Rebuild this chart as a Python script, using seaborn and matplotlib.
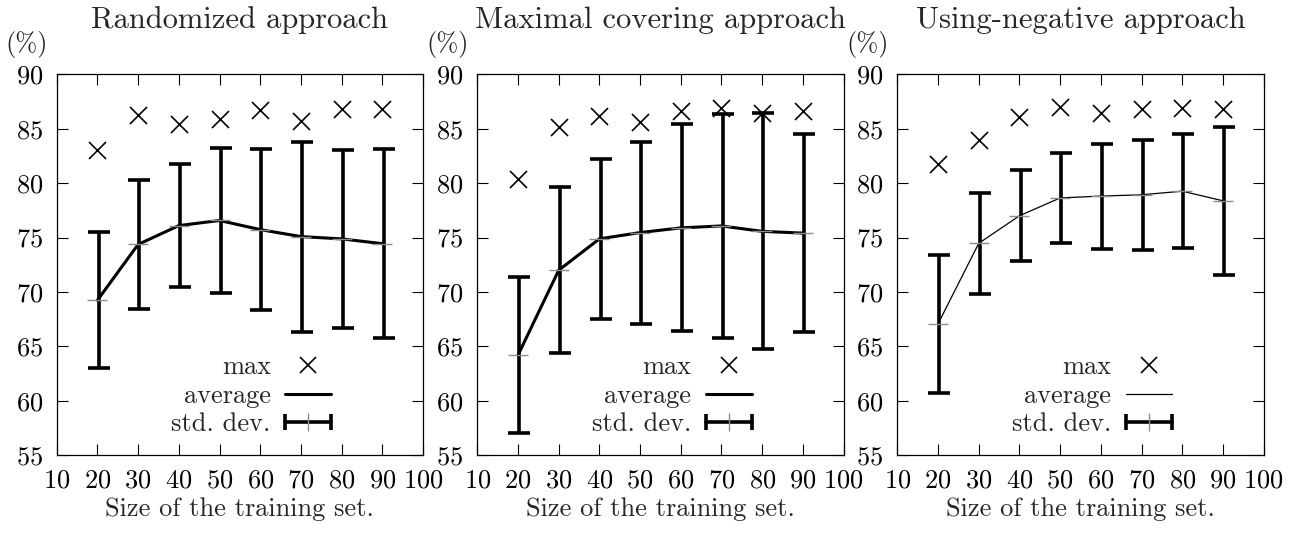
import matplotlib
matplotlib.use('Agg')
import matplotlib.pyplot as plt
from matplotlib.lines import Line2D
from matplotlib.legend_handler import HandlerLine2D
import pandas as pd
import seaborn as sns

# --- Data ---
sizes = [20, 30, 40, 50, 60, 70, 80, 90]
titles = ['Randomized approach', 'Maximal covering approach', 'Using-negative approach']

rand_max = [83.0, 86.3, 85.4, 85.9, 86.7, 85.7, 86.8, 86.8]
rand_avg = [69.25, 74.37, 76.1, 76.57, 75.73, 75.09, 74.88, 74.44]
rand_std = [6.25, 5.89, 5.66, 6.69, 7.41, 8.72, 8.15, 8.7]

cover_max = [80.4, 85.2, 86.17, 85.6, 86.6, 86.9, 86.4, 86.6]
cover_avg = [64.2, 72.0, 74.88, 75.46, 75.89, 76.07, 75.57, 75.41]
cover_std = [7.17, 7.6, 7.35, 8.36, 9.5, 10.32, 10.83, 9.08]

neg_max = [81.73, 83.97, 86.11, 87.03, 86.48, 86.82, 86.88, 86.82]
neg_avg = [67.07, 74.47, 77.0, 78.64, 78.81, 78.93, 79.26, 78.38]
neg_std = [6.37, 4.62, 4.18, 4.13, 4.82, 5.04, 5.26, 6.78]

panels = [(rand_max, rand_avg, rand_std, 2.2),
          (cover_max, cover_avg, cover_std, 2.2),
          (neg_max, neg_avg, neg_std, 0.9)]

# --- Style ---
sns.set_style('ticks')
plt.rcParams['font.family'] = ['cmr10', 'DejaVu Serif']
plt.rcParams['axes.formatter.use_mathtext'] = True
FS = 19

fig = plt.figure(figsize=(13.02, 5.51), dpi=100)
lefts = [0.0436, 0.3666, 0.6892]

for i, (mx, avg, sd, lw) in enumerate(panels):
    ax = fig.add_axes([lefts[i], 0.1737, 0.2813, 0.6915])
    df = pd.DataFrame({'size': sizes, 'max': mx, 'avg': avg, 'std': sd})

    sns.lineplot(data=df, x='size', y='avg', ax=ax, color='black', lw=lw, zorder=2)
    ax.errorbar(df['size'] + 0.3, df['avg'], yerr=df['std'], fmt='none',
                ecolor='black', elinewidth=2.6, capsize=8, capthick=2.6, zorder=3)
    ax.plot(df['size'], df['avg'], ls='none', marker='_', ms=14, mew=1,
            color='#8c8c8c', zorder=4)
    sns.scatterplot(data=df, x='size', y='max', ax=ax, marker='x', s=150,
                    color='black', linewidth=1.2, zorder=5)

    ax.set_xlim(10, 100)
    ax.set_ylim(55, 90)
    ax.set_xticks(range(10, 101, 10))
    ax.set_yticks(range(55, 91, 5))
    ax.tick_params(direction='in', top=True, right=True, length=8, width=0.8,
                   labelsize=FS, pad=10, colors='black')
    for s in ax.spines.values():
        s.set_linewidth(0.9)
        s.set_color('black')
    ax.set_xlabel('Size of the training set.', fontsize=FS, labelpad=3)
    ax.set_ylabel('')
    ax.set_title(titles[i], fontsize=22, pad=33)
    ax.text(-0.14, 1.077, '(%)', transform=ax.transAxes, fontsize=FS,
            ha='left', va='center')

    # gnuplot-like key
    h_max = Line2D([], [], ls='none', marker='x', color='black', ms=12, mew=1.2)
    h_avg = Line2D([], [], color='black', lw=lw)
    h_cap = Line2D([], [], color='black', lw=2.6, marker='|', ms=11, mew=2.6)
    h_mid = Line2D([], [], ls='none', marker='|', color='#8c8c8c', ms=13, mew=1)
    ax.legend([h_max, h_avg, (h_cap, h_mid)], ['max', 'average', 'std. dev.'],
              handler_map={h_cap: HandlerLine2D(numpoints=2, marker_pad=0)},
              markerfirst=False, frameon=False, fontsize=FS, loc='lower right',
              bbox_to_anchor=(0.75, 0.05), handlelength=1.75, handletextpad=0.55,
              labelspacing=0.18, borderpad=0, borderaxespad=0)

fig.savefig('out.png', dpi=100)
